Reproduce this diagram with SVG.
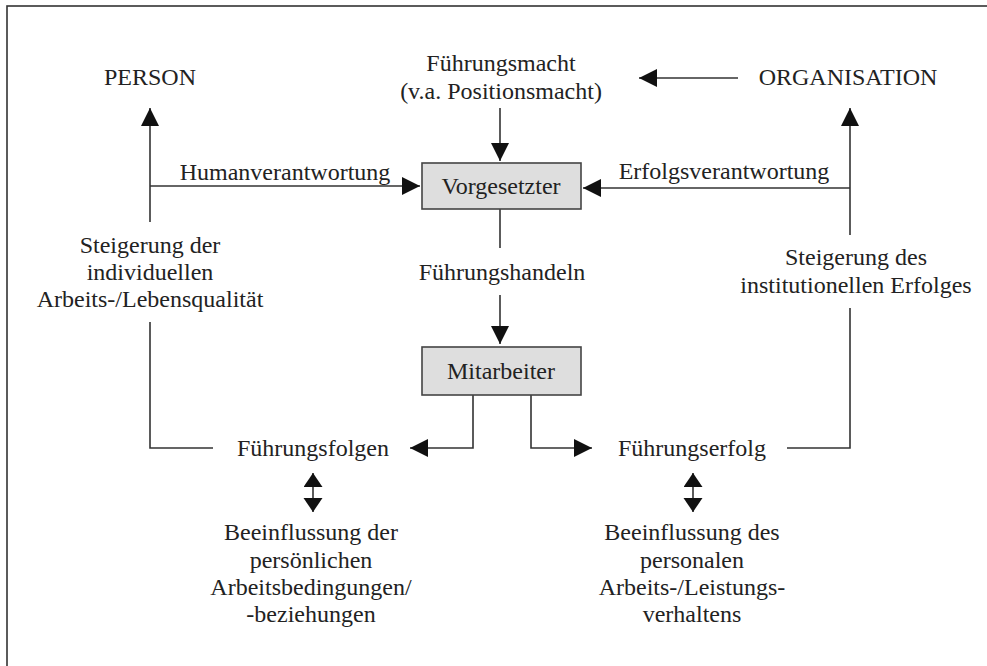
<svg xmlns="http://www.w3.org/2000/svg" width="987" height="666" viewBox="0 0 987 666">
<style>
text{font-family:"Liberation Serif","Times New Roman",serif;font-size:24px;fill:#222;text-anchor:middle}
.ln{fill:none;stroke:#333;stroke-width:1.6}
.box{fill:#dedede;stroke:#444;stroke-width:1.6}
</style>
<defs>
<marker id="ah" markerUnits="userSpaceOnUse" markerWidth="20" markerHeight="20" refX="18" refY="9" orient="auto">
<path d="M0,0 L18,9 L0,18 z" fill="#111"/>
</marker>
<marker id="dh" markerUnits="userSpaceOnUse" markerWidth="20" markerHeight="20" refX="14" refY="9.5" orient="auto-start-reverse">
<path d="M0,0 L14,9.5 L0,19 z" fill="#111"/>
</marker>
</defs>
<rect x="7" y="6" width="990" height="670" fill="#fff" stroke="#333" stroke-width="1.6"/>
<g id="connectors">
<line class="ln" x1="738" y1="78" x2="639" y2="78" marker-end="url(#ah)"/>
<line class="ln" x1="500" y1="108" x2="500" y2="161" marker-end="url(#ah)"/>
<line class="ln" x1="150" y1="186" x2="420" y2="186" marker-end="url(#ah)"/>
<line class="ln" x1="850" y1="188" x2="583" y2="188" marker-end="url(#ah)"/>
<line class="ln" x1="150" y1="222" x2="150" y2="108" marker-end="url(#ah)"/>
<line class="ln" x1="850" y1="235" x2="850" y2="108" marker-end="url(#ah)"/>
<line class="ln" x1="500" y1="209" x2="500" y2="248"/>
<line class="ln" x1="500" y1="295" x2="500" y2="344" marker-end="url(#ah)"/>
<path class="ln" d="M473,395 V448 H410" marker-end="url(#ah)"/>
<path class="ln" d="M531,395 V448 H592" marker-end="url(#ah)"/>
<path class="ln" d="M150,322 V448 H213"/>
<path class="ln" d="M787,448 H850 V308"/>
<line class="ln" x1="313" y1="473" x2="313" y2="512" marker-start="url(#dh)" marker-end="url(#dh)"/>
<line class="ln" x1="693" y1="473" x2="693" y2="512" marker-start="url(#dh)" marker-end="url(#dh)"/>
</g>
<g id="person"><text x="150" y="85">PERSON</text></g>
<g id="organisation"><text x="848" y="85">ORGANISATION</text></g>
<g id="fuehrungsmacht"><text x="501" y="71">Führungsmacht</text><text x="501" y="99">(v.a. Positionsmacht)</text></g>
<g id="vorgesetzter"><rect class="box" x="422" y="163" width="159" height="46"/><text x="501" y="194">Vorgesetzter</text></g>
<g id="humanverantwortung"><text x="285" y="180">Humanverantwortung</text></g>
<g id="erfolgsverantwortung"><text x="724" y="179">Erfolgsverantwortung</text></g>
<g id="fuehrungshandeln"><text x="502" y="280">Führungshandeln</text></g>
<g id="mitarbeiter"><rect class="box" x="422" y="347" width="159" height="48"/><text x="501" y="379">Mitarbeiter</text></g>
<g id="steigerung-person"><text x="150" y="253">Steigerung der</text><text x="150" y="280">individuellen</text><text x="150" y="307">Arbeits-/Lebensqualität</text></g>
<g id="steigerung-org"><text x="856" y="265">Steigerung des</text><text x="856" y="293">institutionellen Erfolges</text></g>
<g id="fuehrungsfolgen"><text x="313" y="456">Führungsfolgen</text></g>
<g id="fuehrungserfolg"><text x="692" y="456">Führungserfolg</text></g>
<g id="beeinflussung-links"><text x="311" y="540">Beeinflussung der</text><text x="311" y="568">persönlichen</text><text x="311" y="595">Arbeitsbedingungen/</text><text x="311" y="622">-beziehungen</text></g>
<g id="beeinflussung-rechts"><text x="692" y="540">Beeinflussung des</text><text x="692" y="568">personalen</text><text x="692" y="595">Arbeits-/Leistungs-</text><text x="692" y="622">verhaltens</text></g>
</svg>
